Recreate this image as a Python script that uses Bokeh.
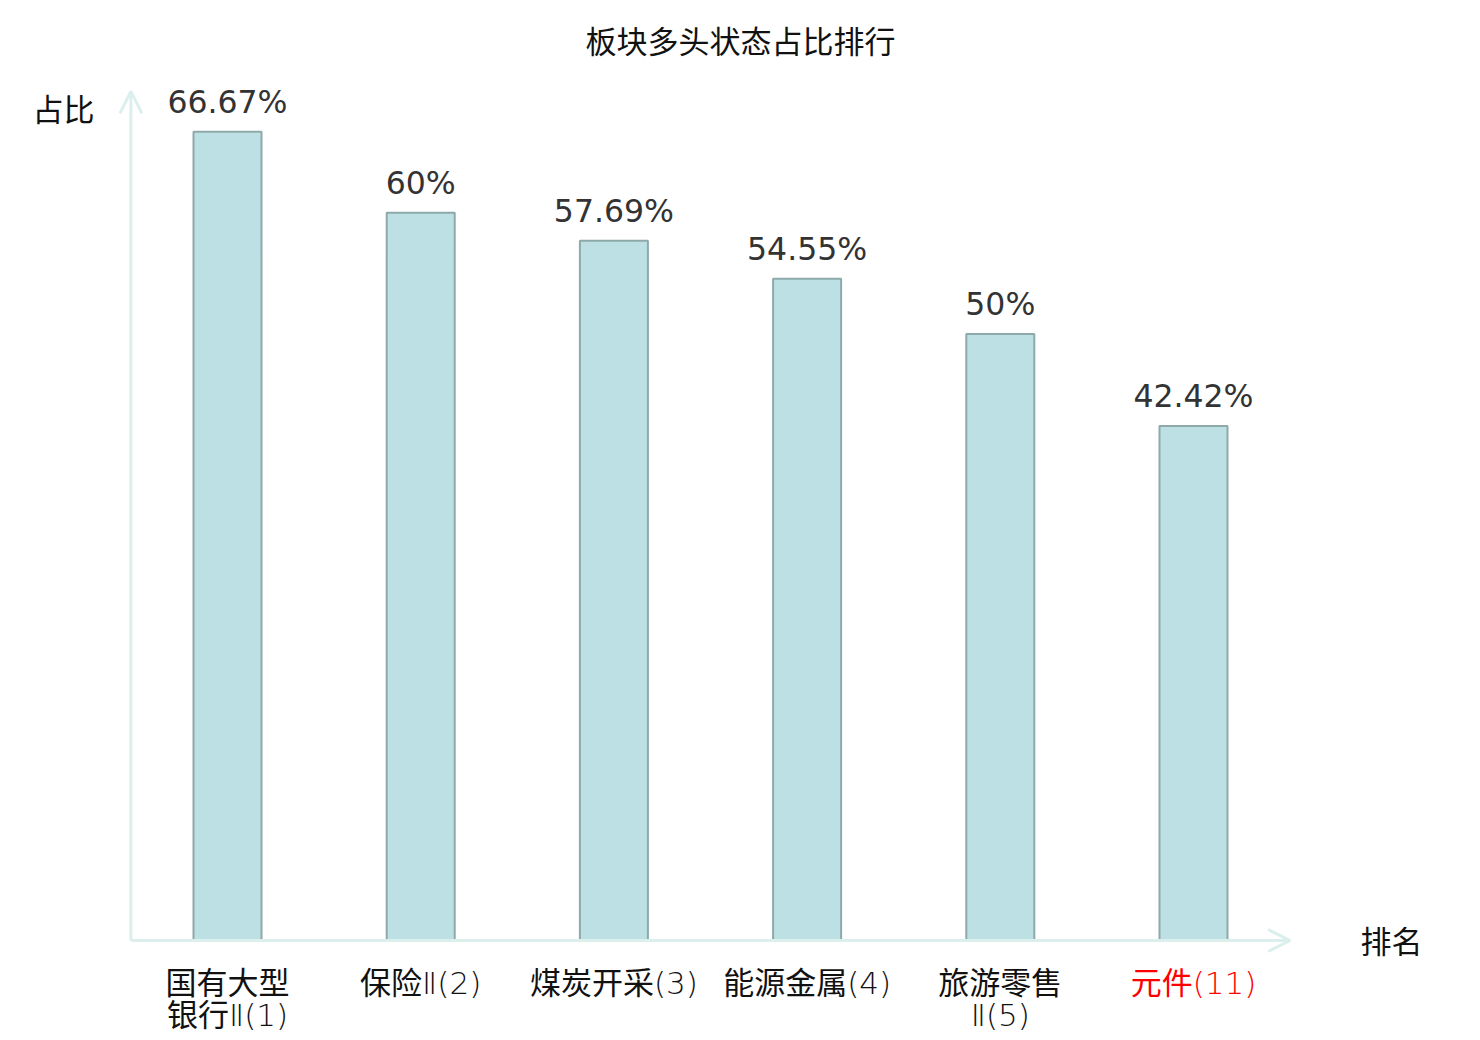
from bokeh.plotting import figure
from bokeh.models import Range1d, Arrow, OpenHead, ColumnDataSource
from bokeh.core.properties import value
from bokeh.embed import file_html
from bokeh.resources import INLINE

# ---- data ----
title_text = "板块多头状态占比排行"
categories = ["国有大型\n银行Ⅱ(1)", "保险Ⅱ(2)", "煤炭开采(3)", "能源金属(4)", "旅游零售\nⅡ(5)", "元件(11)"]
shares = [66.67, 60.0, 57.69, 54.55, 50.0, 42.42]
share_labels = ["66.67%", "60%", "57.69%", "54.55%", "50%", "42.42%"]
label_colors = ["#111111", "#111111", "#111111", "#111111", "#111111", "#ff0000"]
y_axis_name = "占比"
x_axis_name = "排名"

# ---- layout (pixels within the plot canvas) ----
W, H = 1472, 1032
X0_PX = 227.0      # pixel of first bar centre
DX_PX = 193.2      # pixels per category step
Y0_PX = 940.0      # pixel of value 0
DY_PX = 12.13      # pixels per percent


def px2x(px):
    return (px - X0_PX) / DX_PX


def py2y(py):
    return (Y0_PX - py) / DY_PX


p = figure(width=W, height=H, output_backend="svg", toolbar_location=None,
           x_axis_type=None, y_axis_type=None,
           x_range=Range1d(px2x(0), px2x(W)), y_range=Range1d(py2y(H), py2y(0)),
           min_border=0, min_border_left=0, min_border_right=0,
           min_border_top=0, min_border_bottom=0)
p.outline_line_color = None
p.xgrid.visible = False
p.ygrid.visible = False
p.background_fill_color = "white"
p.border_fill_color = "white"

xs = list(range(len(categories)))
src = ColumnDataSource(dict(x=xs, top=shares, lab=share_labels, cat=categories, col=label_colors))

axis_col = "#dbefed"
p.add_layout(Arrow(end=OpenHead(size=22, line_color=axis_col, line_width=3),
                   x_start=-0.5, y_start=0, x_end=-0.5, y_end=70,
                   line_color=axis_col, line_width=3))
p.add_layout(Arrow(end=OpenHead(size=22, line_color=axis_col, line_width=3),
                   x_start=-0.5, y_start=0, x_end=5.5, y_end=0,
                   line_color=axis_col, line_width=3))

p.vbar(x="x", top="top", bottom=0, width=0.352, source=src,
       fill_color="#bce0e3", line_color="#8ea9aa", line_width=2)

p.text(x="x", y="top", text="lab", source=src, text_align="center",
       text_baseline="alphabetic", y_offset=-30, text_font=value("DejaVu Sans"),
       text_font_size="31.5px", text_color="#333333")

p.text(x="x", y=0, text="cat", source=src, text_align="center",
       text_baseline="top", y_offset=24,
       text_font=value("DejaVu Sans Light, Noto Sans CJK SC"),
       text_font_size="31px", text_color="col", text_line_height=0.9)

# title and axis names
cjk = value("Noto Sans CJK SC")
p.text(x=[px2x(740)], y=[py2y(39)], text=[title_text], text_align="center",
       text_baseline="middle", text_font=cjk,
       text_font_size="31px", text_color="#111111")
p.text(x=[px2x(63)], y=[py2y(107)], text=[y_axis_name], text_align="center",
       text_baseline="middle", text_font=cjk,
       text_font_size="31px", text_color="#111111")
p.text(x=[px2x(1391)], y=[py2y(939)], text=[x_axis_name], text_align="center",
       text_baseline="middle", text_font=cjk,
       text_font_size="31px", text_color="#111111")

open("out.html", "w").write(file_html(p, INLINE))
